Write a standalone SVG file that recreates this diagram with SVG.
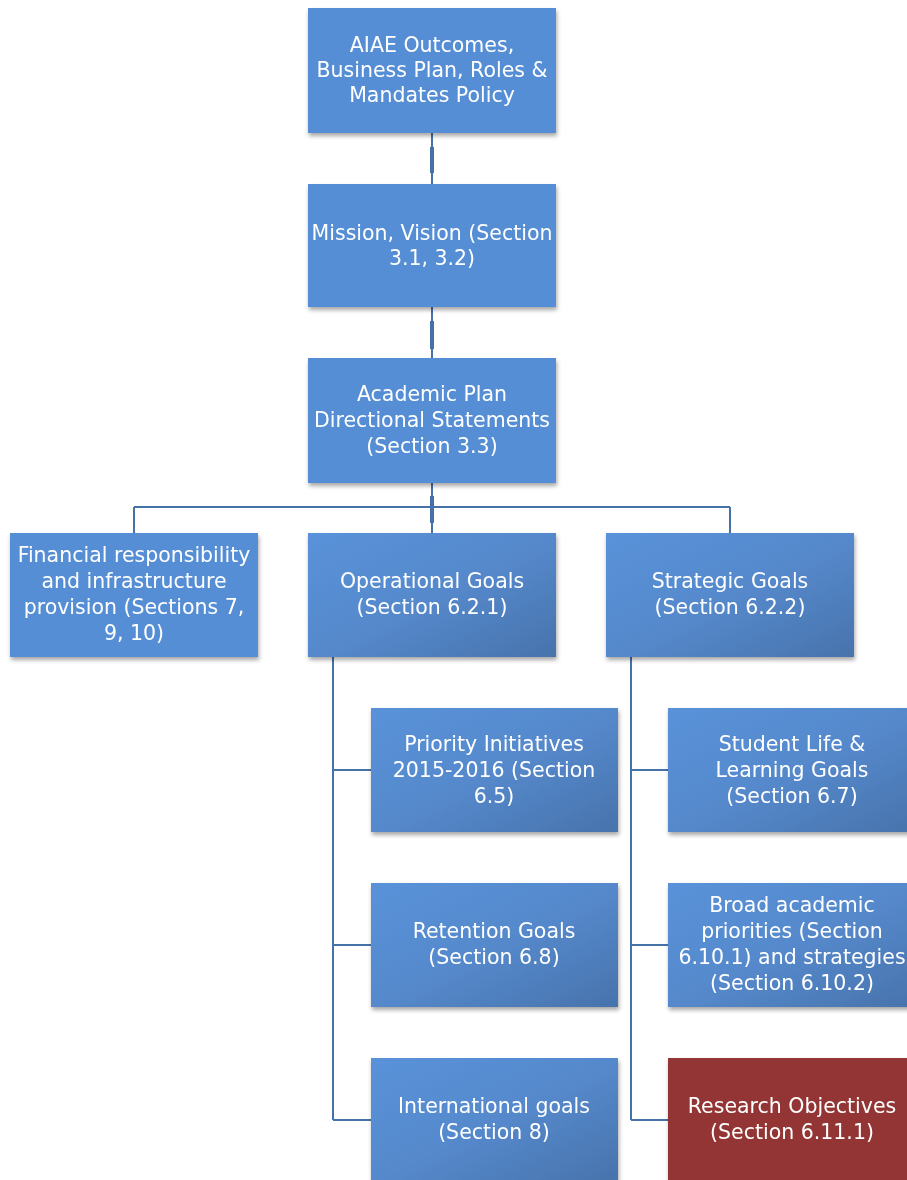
<svg xmlns="http://www.w3.org/2000/svg" width="907" height="1180" viewBox="0 0 907 1180">
<style>
.t{font-family:"DejaVu Sans","Liberation Sans",sans-serif;font-size:20.5px;fill:#ffffff;text-anchor:middle}
.c{fill:none;stroke:#4572A7;stroke-width:2}
.ct{fill:none;stroke:#4572A7;stroke-width:4}
</style>
<defs>
<filter id="sh" x="-10%" y="-10%" width="125%" height="130%">
<feDropShadow dx="1" dy="3" stdDeviation="2" flood-color="#000" flood-opacity="0.35"/>
</filter>
<linearGradient id="g" x1="0" y1="0" x2="1" y2="1">
<stop offset="0" stop-color="#5A92D9"/>
<stop offset="0.5" stop-color="#5589CC"/>
<stop offset="1" stop-color="#4873AC"/>
</linearGradient>
</defs>
<rect width="907" height="1180" fill="#ffffff"/>
<g id="connectors">
<path class="c" d="M432 133V184M432 307V358M432 483V533M134 507H730M134 507V533M730 507V533"/>
<path class="ct" d="M432 147V173M432 321V349M432 496V523"/>
<path class="c" d="M333 657V1120M333 770H371M333 945H371M333 1120H371"/>
<path class="c" d="M631 657V1120M631 770H668M631 945H668M631 1120H668"/>
</g>
<g id="n1" filter="url(#sh)"><rect x="308" y="8" width="248" height="125" fill="#558ED5"/>
<text class="t" x="432" y="52">AIAE Outcomes,</text><text class="t" x="432" y="77">Business Plan, Roles &amp;</text><text class="t" x="432" y="102">Mandates Policy</text></g>
<g id="n2" filter="url(#sh)"><rect x="308" y="184" width="248" height="123" fill="#558ED5"/>
<text class="t" x="432" y="240">Mission, Vision (Section</text><text class="t" x="432" y="265">3.1, 3.2)</text></g>
<g id="n3" filter="url(#sh)"><rect x="308" y="358" width="248" height="125" fill="#558ED5"/>
<text class="t" x="432" y="401">Academic Plan</text><text class="t" x="432" y="427">Directional Statements</text><text class="t" x="432" y="453">(Section 3.3)</text></g>
<g id="n4" filter="url(#sh)"><rect x="10" y="533" width="248" height="124" fill="#558ED5"/>
<text class="t" x="134" y="562">Financial responsibility</text><text class="t" x="134" y="588">and infrastructure</text><text class="t" x="134" y="614">provision (Sections 7,</text><text class="t" x="134" y="640">9, 10)</text></g>
<g id="n5" filter="url(#sh)"><rect x="308" y="533" width="248" height="124" fill="url(#g)"/>
<text class="t" x="432" y="588">Operational Goals</text><text class="t" x="432" y="614">(Section 6.2.1)</text></g>
<g id="n6" filter="url(#sh)"><rect x="606" y="533" width="248" height="124" fill="url(#g)"/>
<text class="t" x="730" y="588">Strategic Goals</text><text class="t" x="730" y="614">(Section 6.2.2)</text></g>
<g id="n7" filter="url(#sh)"><rect x="371" y="708" width="247" height="124" fill="url(#g)"/>
<text class="t" x="494" y="751">Priority Initiatives</text><text class="t" x="494" y="777">2015-2016 (Section</text><text class="t" x="494" y="803">6.5)</text></g>
<g id="n8" filter="url(#sh)"><rect x="371" y="883" width="247" height="124" fill="url(#g)"/>
<text class="t" x="494" y="938">Retention Goals</text><text class="t" x="494" y="964">(Section 6.8)</text></g>
<g id="n9" filter="url(#sh)"><rect x="371" y="1058" width="247" height="124" fill="url(#g)"/>
<text class="t" x="494" y="1113">International goals</text><text class="t" x="494" y="1139">(Section 8)</text></g>
<g id="n10" filter="url(#sh)"><rect x="668" y="708" width="248" height="124" fill="url(#g)"/>
<text class="t" x="792" y="751">Student Life &amp;</text><text class="t" x="792" y="777">Learning Goals</text><text class="t" x="792" y="803">(Section 6.7)</text></g>
<g id="n11" filter="url(#sh)"><rect x="668" y="883" width="248" height="124" fill="url(#g)"/>
<text class="t" x="792" y="912">Broad academic</text><text class="t" x="792" y="938">priorities (Section</text><text class="t" x="792" y="964">6.10.1) and strategies</text><text class="t" x="792" y="990">(Section 6.10.2)</text></g>
<g id="n12" filter="url(#sh)"><rect x="668" y="1058" width="248" height="124" fill="#943634"/>
<text class="t" x="792" y="1113">Research Objectives</text><text class="t" x="792" y="1139">(Section 6.11.1)</text></g>
</svg>
